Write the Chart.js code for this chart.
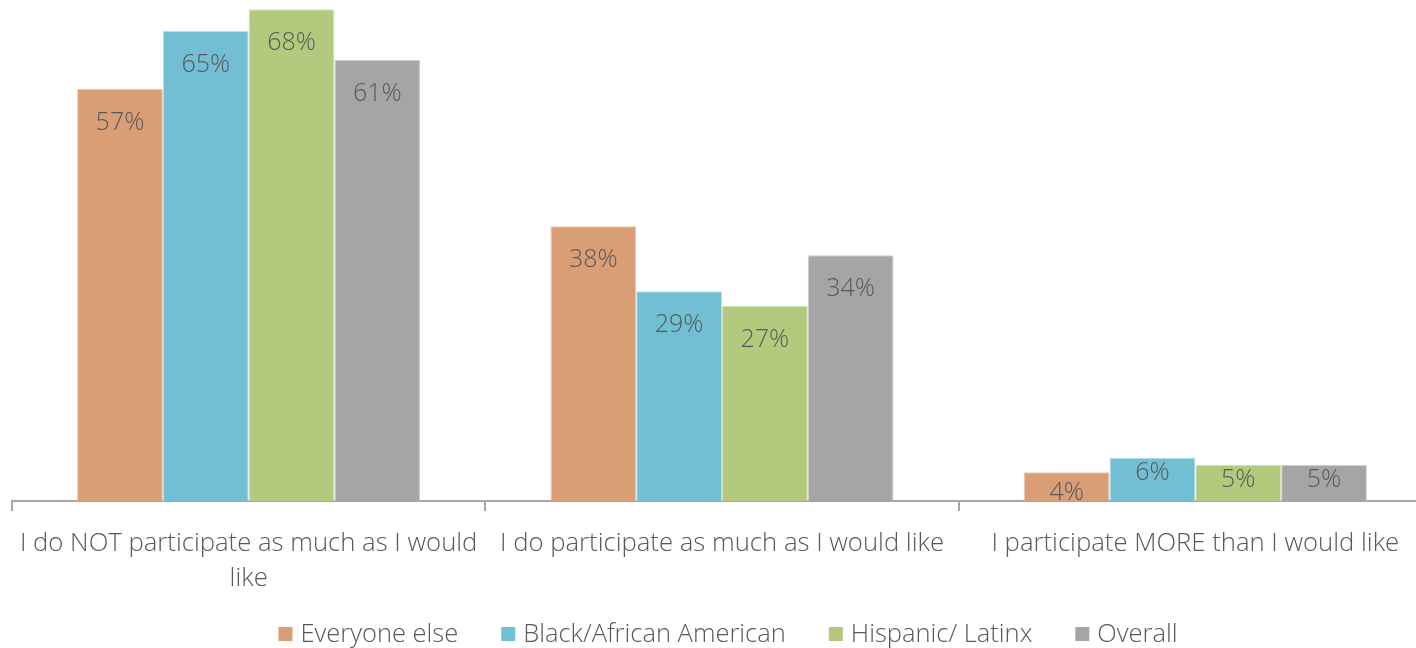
<!DOCTYPE html>
<html>
<head>
<meta charset="utf-8">
<script src="https://cdn.jsdelivr.net/npm/chart.js@4"></script>
<style>
  html, body { margin: 0; padding: 0; background: #fff; overflow: hidden; }
  #wrap { width: 1432px; height: 648px; position: relative; }
</style>
</head>
<body>
<div id="wrap"><canvas id="chart"></canvas></div>
<script>
// Chart data
const categories = [
    ["I do NOT participate as much as I would", "like"],
    "I do participate as much as I would like",
    "I participate MORE than I would like"
];
const seriesNames = ["Everyone else", "Black/African American", "Hispanic/ Latinx", "Overall"];
const everyoneElse = [57, 38, 4];
const blackAfricanAmerican = [65, 29, 6];
const hispanicLatinx = [68, 27, 5];
const overall = [61, 34, 5];

const colors = ["#d99e76", "#72bfd4", "#b2c97e", "#a5a5a5"];
const edges = ["#ecc9b2", "#b4deea", "#d4e3b4", "#cfcfcf"];
const textColor = "#595959";
const fontFamily = "'Open Sans', 'Segoe UI', sans-serif";

// Value labels inside the top of each bar
const valueLabels = {
    id: "valueLabels",
    afterDatasetsDraw(chart) {
        const ctx = chart.ctx;
        ctx.save();
        ctx.fillStyle = textColor;
        ctx.font = "300 25px " + fontFamily;
        ctx.textAlign = "center";
        ctx.textBaseline = "middle";
        chart.data.datasets.forEach((ds, i) => {
            const meta = chart.getDatasetMeta(i);
            meta.data.forEach((bar, j) => {
                const h = bar.base - bar.y;
                let off = 34;
                if (h < 30) off = h - 8;
                else if (h < 68) off = 15;
                ctx.fillText(ds.data[j] + "%", bar.x, bar.y + off);
            });
        });
        ctx.restore();
    }
};

// Legend drawn by hand so it sits where the original one does
const bottomLegend = {
    id: "bottomLegend",
    afterDraw(chart) {
        const ctx = chart.ctx;
        const box = 14, gapText = 8, gapItem = 43;
        const cx = 728, cy = 634;
        ctx.save();
        ctx.font = "300 25.5px " + fontFamily;
        ctx.textBaseline = "middle";
        const widths = chart.data.datasets.map(ds => box + gapText + ctx.measureText(ds.label).width);
        const total = widths.reduce((a, b) => a + b, 0) + gapItem * (widths.length - 1);
        let x = cx - total / 2;
        chart.data.datasets.forEach((ds, i) => {
            ctx.fillStyle = ds.backgroundColor;
            ctx.fillRect(x, cy - box / 2, box, box);
            ctx.fillStyle = textColor;
            ctx.fillText(ds.label, x + box + gapText, cy + 1);
            x += widths[i] + gapItem;
        });
        ctx.restore();
    }
};

const seriesData = [everyoneElse, blackAfricanAmerican, hispanicLatinx, overall];

new Chart(document.getElementById("chart"), {
    type: "bar",
    data: {
        labels: categories,
        datasets: seriesNames.map((name, i) => ({
            label: name,
            data: seriesData[i],
            backgroundColor: colors[i],
            borderColor: edges[i],
            borderWidth: 1,
            barPercentage: 1,
            categoryPercentage: 0.725
        }))
    },
    options: {
        responsive: true,
        maintainAspectRatio: false,
        animation: false,
        layout: { padding: { left: 12, right: 0, top: 2, bottom: 37 } },
        plugins: {
            legend: { display: false },
            tooltip: { enabled: false }
        },
        scales: {
            x: {
                grid: {
                    drawOnChartArea: false,
                    drawTicks: true,
                    tickLength: 10,
                    color: "#a6a6a6",
                    lineWidth: 2
                },
                border: { display: true, color: "#a6a6a6", width: 2 },
                ticks: {
                    color: textColor,
                    maxRotation: 0,
                    autoSkip: false,
                    padding: 15,
                    font: { family: fontFamily, size: 25.7, weight: 300, lineHeight: 1.36 }
                }
            },
            y: {
                display: false,
                min: 0,
                max: 69
            }
        }
    },
    plugins: [valueLabels, bottomLegend]
});
</script>
</body>
</html>
